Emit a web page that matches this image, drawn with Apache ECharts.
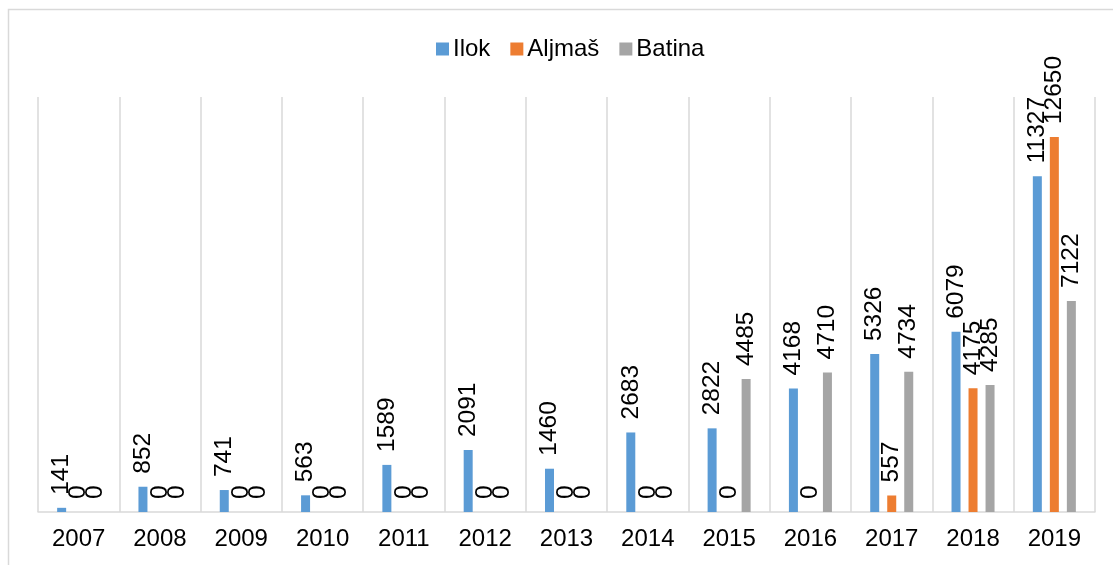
<!DOCTYPE html>
<html>
<head>
<meta charset="utf-8">
<script src="https://cdn.jsdelivr.net/npm/echarts@6/dist/echarts.min.js"></script>
<style>html,body{margin:0;padding:0;background:#fff;}#c{width:1113px;height:565px;}</style>
</head>
<body>
<div id="c"></div>
<script>
const categories = ['2007','2008','2009','2010','2011','2012','2013','2014','2015','2016','2017','2018','2019'];
const ilok = [141, 852, 741, 563, 1589, 2091, 1460, 2683, 2822, 4168, 5326, 6079, 11327];
const aljmas = [0, 0, 0, 0, 0, 0, 0, 0, 0, 0, 557, 4175, 12650];
const batina = [0, 0, 0, 0, 0, 0, 0, 0, 4485, 4710, 4734, 4285, 7122];

const FONT = 'Liberation Sans, Arial, sans-serif';
const label = {
  show: true, position: 'top', rotate: 90, align: 'left', verticalAlign: 'middle',
  distance: 13, color: '#000', fontSize: 24.5, fontFamily: FONT
};
function ser(name, data, color) {
  return { name, type: 'bar', data, barWidth: 9, barGap: '89%', itemStyle: { color }, label, animation: false };
}
const chart = echarts.init(document.getElementById('c'), null, { renderer: 'canvas' });
chart.setOption({
  animation: false,
  textStyle: { fontFamily: FONT },
  graphic: [{ type: 'rect', shape: { x: 8.5, y: 9.5, width: 1200, height: 700 }, style: { fill: 'none', stroke: '#d9d9d9', lineWidth: 1.5 }, silent: true }],
  legend: {
    top: 32, left: 431, itemWidth: 13, itemHeight: 13, itemGap: 20,
    icon: 'rect', textStyle: { fontSize: 24, color: '#000', fontFamily: FONT, padding: [0, 0, 0, -1] },
    data: ['Ilok', 'Aljmaš', 'Batina']
  },
  grid: { left: 38, right: 18, top: 97, bottom: 53, containLabel: false },
  xAxis: {
    type: 'category', data: categories,
    axisLine: { lineStyle: { color: '#d9d9d9', width: 1.5 } },
    axisTick: { show: false },
    splitLine: { show: true, lineStyle: { color: '#d9d9d9', width: 1.5 } },
    axisLabel: { color: '#000', fontSize: 24, fontFamily: FONT, margin: 15 }
  },
  yAxis: { type: 'value', min: 0, max: 14000, show: false, splitLine: { show: false } },
  series: [ser('Ilok', ilok, '#5B9BD5'), ser('Aljmaš', aljmas, '#ED7D31'), ser('Batina', batina, '#A5A5A5')]
});
</script>
</body>
</html>
